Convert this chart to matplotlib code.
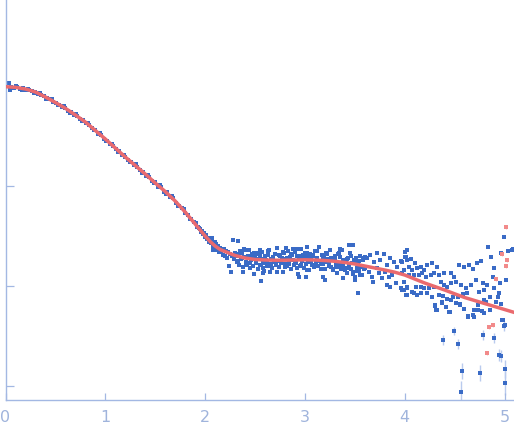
import matplotlib
matplotlib.use("Agg")
import matplotlib.pyplot as plt

# fitted curve (log10 intensity against q)
q_fit = [0.0, 0.1, 0.2, 0.3, 0.4, 0.5, 0.6, 0.7, 0.8, 0.9,
         1.0, 1.1, 1.2, 1.3, 1.4, 1.5, 1.6, 1.7, 1.8, 1.9,
         2.0, 2.05, 2.1, 2.15, 2.2, 2.3, 2.4, 2.5, 2.6, 2.7,
         2.8, 2.9, 3.0, 3.1, 3.2, 3.3, 3.4, 3.5, 3.6, 3.7,
         3.8, 3.9, 4.0, 4.1, 4.2, 4.3, 4.4, 4.5, 4.6, 4.7,
         4.8, 4.9, 5.0, 5.12]
logi_fit = [-0.007, -0.013, -0.030, -0.060, -0.110, -0.165, -0.223, -0.290, -0.360, -0.445,
            -0.530, -0.620, -0.710, -0.795, -0.880, -0.970, -1.055, -1.150, -1.260, -1.380,
            -1.500, -1.555, -1.600, -1.635, -1.655, -1.695, -1.720, -1.735, -1.740, -1.742,
            -1.742, -1.740, -1.738, -1.740, -1.745, -1.753, -1.765, -1.780, -1.800, -1.820,
            -1.840, -1.862, -1.890, -1.930, -1.970, -2.005, -2.040, -2.078, -2.115, -2.145,
            -2.175, -2.205, -2.235, -2.271]

# measured points, low q
q_low = [0.04, 0.05, 0.06, 0.09, 0.12, 0.15, 0.18, 0.21, 0.24, 0.27,
         0.30, 0.33, 0.36, 0.39, 0.42, 0.45, 0.48, 0.51, 0.54, 0.57,
         0.60, 0.63, 0.66, 0.69, 0.72, 0.75, 0.78, 0.81, 0.84, 0.87,
         0.90, 0.93, 0.96, 0.99, 1.02, 1.05, 1.08, 1.11, 1.14, 1.17,
         1.20, 1.23, 1.26, 1.29, 1.32, 1.35, 1.38, 1.41, 1.44, 1.47,
         1.50, 1.53, 1.56, 1.59, 1.62, 1.65, 1.68, 1.71, 1.74, 1.77,
         1.80, 1.83, 1.86, 1.89, 1.92,
         1.93, 1.94, 1.95, 1.96, 1.97, 1.98, 1.99, 2.00, 2.01, 2.02,
         2.03, 2.04, 2.05, 2.06, 2.07, 2.08, 2.09, 2.10, 2.11, 2.12,
         2.13, 2.14, 2.15, 2.16, 2.17, 2.18, 2.19, 2.20, 2.21, 2.22,
         2.23, 2.24, 2.25, 2.26, 2.27, 2.28, 2.29, 2.30]
logi_low = [0.027, -0.040, -0.005, -0.018, -0.012, -0.025, -0.022, -0.036, -0.040, -0.050,
            -0.058, -0.078, -0.088, -0.102, -0.120, -0.133, -0.155, -0.170, -0.186, -0.207,
            -0.220, -0.245, -0.262, -0.285, -0.300, -0.328, -0.342, -0.372, -0.390, -0.420,
            -0.440, -0.475, -0.492, -0.525, -0.545, -0.578, -0.598, -0.632, -0.652, -0.685,
            -0.705, -0.738, -0.755, -0.790, -0.808, -0.842, -0.858, -0.895, -0.910, -0.948,
            -0.955, -1.005, -1.010, -1.060, -1.062, -1.110, -1.120, -1.165, -1.195, -1.220,
            -1.265, -1.290, -1.330, -1.360, -1.410,
            -1.405, -1.420, -1.430, -1.455, -1.450, -1.475, -1.470, -1.505, -1.490, -1.530,
            -1.515, -1.555, -1.530, -1.570, -1.520, -1.595, -1.560, -1.620, -1.580, -1.640,
            -1.600, -1.655, -1.620, -1.660, -1.630, -1.690, -1.630, -1.700, -1.650, -1.720,
            -1.660, -1.800, -1.680, -1.860, -1.700, -1.540, -1.730, -1.670]

# second pass of low-q points, either side of the curve
q_low2 = [0.105, 0.165, 0.225, 0.285, 0.345, 0.405, 0.465, 0.525, 0.585, 0.645,
          0.705, 0.765, 0.825, 0.885, 0.945, 1.005, 1.065, 1.125, 1.185, 1.245,
          1.305, 1.365, 1.425, 1.485, 1.545, 1.605, 1.665, 1.725, 1.785, 1.845,
          1.905]
logi_low2 = [-0.002, -0.036, -0.026, -0.068, -0.071, -0.125, -0.134, -0.192, -0.202, -0.265,
             -0.282, -0.348, -0.369, -0.444, -0.471, -0.547, -0.577, -0.655, -0.685, -0.762,
             -0.784, -0.865, -0.888, -0.972, -0.993, -1.075, -1.102, -1.196, -1.226, -1.332,
             -1.368]

# measured points, plateau
q_mid = [2.31, 2.32, 2.33, 2.34, 2.35, 2.36, 2.37, 2.38, 2.39, 2.40,
         2.41, 2.42, 2.43, 2.44, 2.45, 2.46, 2.47, 2.48, 2.49, 2.50,
         2.51, 2.52, 2.53, 2.54, 2.55, 2.56, 2.57, 2.58, 2.59, 2.60,
         2.61, 2.62, 2.63, 2.64, 2.65, 2.66, 2.67, 2.68, 2.69, 2.70,
         2.71, 2.72, 2.73, 2.74, 2.75, 2.76, 2.77, 2.78, 2.79, 2.80,
         2.81, 2.82, 2.83, 2.84, 2.85, 2.86, 2.87, 2.88, 2.89, 2.90,
         2.91, 2.92, 2.93, 2.94, 2.95, 2.96, 2.97, 2.98, 2.99, 3.00,
         3.01, 3.02, 3.03, 3.04, 3.05, 3.06, 3.07, 3.08, 3.09, 3.10,
         3.11, 3.12, 3.13, 3.14, 3.15, 3.16, 3.17, 3.18, 3.19, 3.20,
         3.21, 3.22, 3.23, 3.24, 3.25, 3.26, 3.27, 3.28, 3.29, 3.30,
         3.31, 3.32, 3.33, 3.34, 3.35, 3.36, 3.37, 3.38, 3.39, 3.40,
         3.41, 3.42, 3.43, 3.44, 3.45, 3.46, 3.47, 3.48, 3.49, 3.50,
         3.51, 3.52, 3.53, 3.54, 3.55, 3.56, 3.57, 3.58, 3.59, 3.60,
         2.28, 2.33, 2.263, 2.38, 2.582, 2.565, 2.649, 2.944, 2.548, 2.632,
         2.81, 2.917, 3.018, 3.011, 3.18, 3.347, 3.438, 3.478, 3.421, 3.528,
         3.381, 3.505, 3.555, 2.095, 2.078]
logi_mid = [-1.68, -1.76, -1.70, -1.79, -1.65, -1.73, -1.67, -1.81, -1.71, -1.64,
            -1.76, -1.79, -1.71, -1.64, -1.77, -1.74, -1.68, -1.80, -1.88, -1.70,
            -1.76, -1.68, -1.83, -1.73, -1.70, -1.79, -1.66, -1.77, -1.85, -1.72,
            -1.74, -1.80, -1.69, -1.64, -1.78, -1.73, -1.82, -1.71, -1.76, -1.68,
            -1.79, -1.62, -1.75, -1.81, -1.70, -1.77, -1.72, -1.86, -1.67, -1.78,
            -1.73, -1.80, -1.65, -1.76, -1.71, -1.83, -1.69, -1.74, -1.79, -1.66,
            -1.77, -1.70, -1.88, -1.72, -1.80, -1.63, -1.75, -1.69, -1.82, -1.71,
            -1.78, -1.67, -1.76, -1.84, -1.68, -1.73, -1.79, -1.70, -1.81, -1.65,
            -1.77, -1.72, -1.80, -1.61, -1.75, -1.83, -1.69, -1.78, -1.71, -1.94,
            -1.67, -1.76, -1.73, -1.80, -1.64, -1.81, -1.72, -1.84, -1.74, -1.70,
            -1.79, -1.87, -1.68, -1.77, -1.71, -1.83, -1.64, -1.80, -1.74, -1.82,
            -1.75, -1.87, -1.72, -1.80, -1.67, -1.83, -1.77, -1.86, -1.74, -1.91,
            -1.72, -1.82, -1.77, -1.85, -1.70, -1.80, -1.89, -1.74, -1.83, -1.71,
            -1.540, -1.550, -1.857, -1.857, -1.873, -1.950, -1.857, -1.907, -1.640, -1.650,
            -1.623, -1.630, -1.607, -1.907, -1.907, -1.630, -1.590, -1.590, -1.873, -2.073,
            -1.923, -1.940, -1.890, -1.557, -1.640]

# plateau points in between
q_mid2 = [2.325, 2.345, 2.365, 2.385, 2.405, 2.425, 2.445, 2.465, 2.485,
          2.505, 2.525, 2.545, 2.565, 2.585, 2.605, 2.625, 2.645, 2.665, 2.685,
          2.705, 2.725, 2.745, 2.765, 2.785, 2.805, 2.825, 2.845, 2.865, 2.885,
          2.905, 2.925, 2.945, 2.965, 2.985, 3.005, 3.025, 3.045, 3.065, 3.085,
          3.105, 3.125, 3.145, 3.165, 3.185, 3.205, 3.225, 3.245,
          3.265, 3.285, 3.305, 3.325, 3.345, 3.365, 3.385, 3.405,
          3.425, 3.445, 3.465, 3.485, 3.505, 3.525, 3.545, 3.565, 3.585]
logi_mid2 = [-1.75, -1.66, -1.72, -1.63, -1.79, -1.70, -1.82, -1.71, -1.67,
             -1.77, -1.67, -1.79, -1.73, -1.82, -1.70, -1.76, -1.64, -1.80, -1.71,
             -1.75, -1.86, -1.69, -1.77, -1.66, -1.81, -1.72, -1.78, -1.68, -1.63,
             -1.76, -1.82, -1.70, -1.79, -1.73, -1.67, -1.84, -1.71, -1.76, -1.69,
             -1.80, -1.65, -1.75, -1.78, -1.72, -1.83, -1.68, -1.77,
             -1.72, -1.83, -1.74, -1.81, -1.67, -1.79, -1.75, -1.84,
             -1.73, -1.82, -1.70, -1.88, -1.76, -1.85, -1.75, -1.81, -1.72]

# measured points, high q
q_high = [3.622, 3.656, 3.690, 3.723, 3.757, 3.790, 3.824, 3.857, 3.891, 3.925,
          3.958, 4.008, 4.025, 3.640, 3.673, 3.740, 3.773, 3.807, 3.840, 3.874,
          3.908, 3.958, 3.990, 4.025, 3.723, 3.606, 3.680, 3.824, 3.857, 3.975,
          4.018, 3.998, 4.005, 3.975, 4.025, 4.059, 4.099, 4.039, 3.992, 4.075,
          4.126, 4.160, 4.193, 4.227, 4.277, 4.327, 4.143, 4.092, 4.042, 3.975,
          4.176, 4.210, 4.260, 4.294, 4.344, 4.394, 4.461, 4.495, 4.545, 4.596,
          4.646, 4.680, 4.723, 4.764, 4.837, 4.864, 4.898, 4.965, 4.999, 5.039,
          5.083, 5.015, 4.958, 4.881, 4.824, 4.780, 4.713, 4.663, 4.613, 4.562,
          4.512, 4.461, 4.428, 4.394, 4.361, 4.294, 4.243, 4.193, 4.159, 4.109,
          4.075, 4.025, 3.992, 4.008, 4.304, 4.317, 4.371, 4.411, 4.455, 4.468,
          4.512, 4.555, 4.596, 4.636, 4.690, 4.696, 4.737, 4.790, 4.814, 4.858,
          4.931, 4.965, 4.978, 4.891, 4.797, 4.747, 4.629, 4.579, 4.529, 4.488,
          4.428, 4.388, 4.347, 4.277, 4.227, 4.159, 4.126, 4.092, 4.915, 4.948,
          4.300, 4.320, 4.377, 4.410, 4.444, 4.555, 4.595, 4.636, 4.689, 4.730,
          4.770, 4.797, 4.857, 4.980, 5.000, 5.095, 5.070]
logi_high = [-1.723, -1.690, -1.757, -1.673, -1.740, -1.683, -1.790, -1.723, -1.757, -1.807,
             -1.750, -1.707, -1.640, -1.857, -1.907, -1.873, -1.923, -1.857, -1.907, -1.890,
             -1.973, -2.023, -1.957, -2.007, -1.823, -1.823, -1.957, -1.990, -2.007, -2.040,
             -2.090, -1.663, -1.707, -1.757, -1.740, -1.733, -1.773, -1.807, -1.840, -1.840,
             -1.823, -1.807, -1.840, -1.790, -1.767, -1.807, -1.890, -1.890, -1.890, -1.873,
             -1.873, -1.907, -1.890, -1.873, -1.890, -1.873, -1.873, -1.907, -1.790, -1.807,
             -1.790, -1.833, -1.767, -1.747, -1.613, -1.707, -1.823, -1.673, -1.513, -1.650,
             -1.633, -1.940, -1.967, -1.913, -1.990, -1.973, -1.940, -1.990, -2.023, -1.990,
             -1.957, -1.973, -2.007, -1.990, -1.957, -2.007, -2.023, -2.023, -2.007, -2.007,
             -2.057, -2.023, -2.040, -2.090, -2.197, -2.240, -2.157, -2.207, -2.257, -2.140,
             -2.173, -2.190, -2.233, -2.307, -2.307, -2.240, -2.190, -2.140, -2.157, -2.107,
             -2.113, -2.183, -2.340, -2.023, -2.040, -2.057, -2.073, -2.080, -2.107, -2.113,
             -2.133, -2.100, -2.090, -2.107, -2.073, -2.073, -2.090, -2.067, -2.157, -2.073,
             -2.190, -2.240, -2.167, -2.207, -2.257, -2.180, -2.233, -2.300, -2.290, -2.240,
             -2.250, -2.267, -2.240, -2.340, -2.390, -1.633, -1.640]

# noisy points with visible error bars
q_weak = [4.384, 4.495, 4.535, 4.575, 4.565, 4.757, 4.780, 4.897, 4.948, 4.968,
          5.008, 5.008, 4.999]
logi_weak = [-2.543, -2.447, -2.583, -2.850, -3.063, -2.873, -2.493, -2.523, -2.693, -2.703,
             -2.833, -2.973, -2.400]
err_weak = [0.05, 0.04, 0.05, 0.08, 0.11, 0.08, 0.05, 0.05, 0.06, 0.06,
            0.09, 0.12, 0.05]

# points excluded from the fit
q_rej = [5.018, 4.978, 5.028, 5.018, 4.917, 4.847, 4.887, 4.827]
logi_rej = [-1.413, -1.680, -1.743, -1.803, -1.927, -2.410, -2.385, -2.673]

blue = "#3a6bc6"
red = "#ea6a6e"
axis_col = "#a3b8e3"

fig = plt.figure(figsize=(5.14, 4.38), dpi=100)
ax = fig.add_axes([5.5 / 514, 38 / 438, 509 / 514, 400 / 438])

ax.errorbar(q_weak, logi_weak, yerr=err_weak, fmt="none", ecolor="#b9cbee", elinewidth=1.0, zorder=1)
ax.errorbar(q_rej, logi_rej, yerr=[0.02] * len(q_rej), fmt="none", ecolor="#f6c4c4", elinewidth=0.8, zorder=1)

series = [(q_low, logi_low), (q_low2, logi_low2), (q_mid, logi_mid), (q_mid2, logi_mid2),
          (q_high, logi_high), (q_weak, logi_weak)]
for qs, ls in series:
    ax.plot(qs, ls, "s", color=blue, ms=2.6, mew=0, zorder=2)
ax.plot(q_rej, logi_rej, "s", color="#f28a8a", ms=2.4, mew=0, zorder=2)

ax.plot(q_fit, logi_fit, color=red, lw=2.5, solid_capstyle="round", zorder=3)

ax.set_xlim(0, 5.1)
ax.set_ylim(-3.14, 0.86)
ax.set_xticks([0, 1, 2, 3, 4, 5])
ax.set_yticks([-3, -2, -1])
ax.set_yticklabels([])

for side in ["top", "right"]:
    ax.spines[side].set_visible(False)
for side in ["left", "bottom"]:
    ax.spines[side].set_color(axis_col)
    ax.spines[side].set_linewidth(1.0)

ax.tick_params(axis="both", direction="in", color=axis_col, width=0.9)
ax.tick_params(axis="x", length=5, pad=7, labelsize=11.5, labelcolor="#a0b4dc")
ax.tick_params(axis="y", length=6)

fig.savefig("out.png", dpi=100)
